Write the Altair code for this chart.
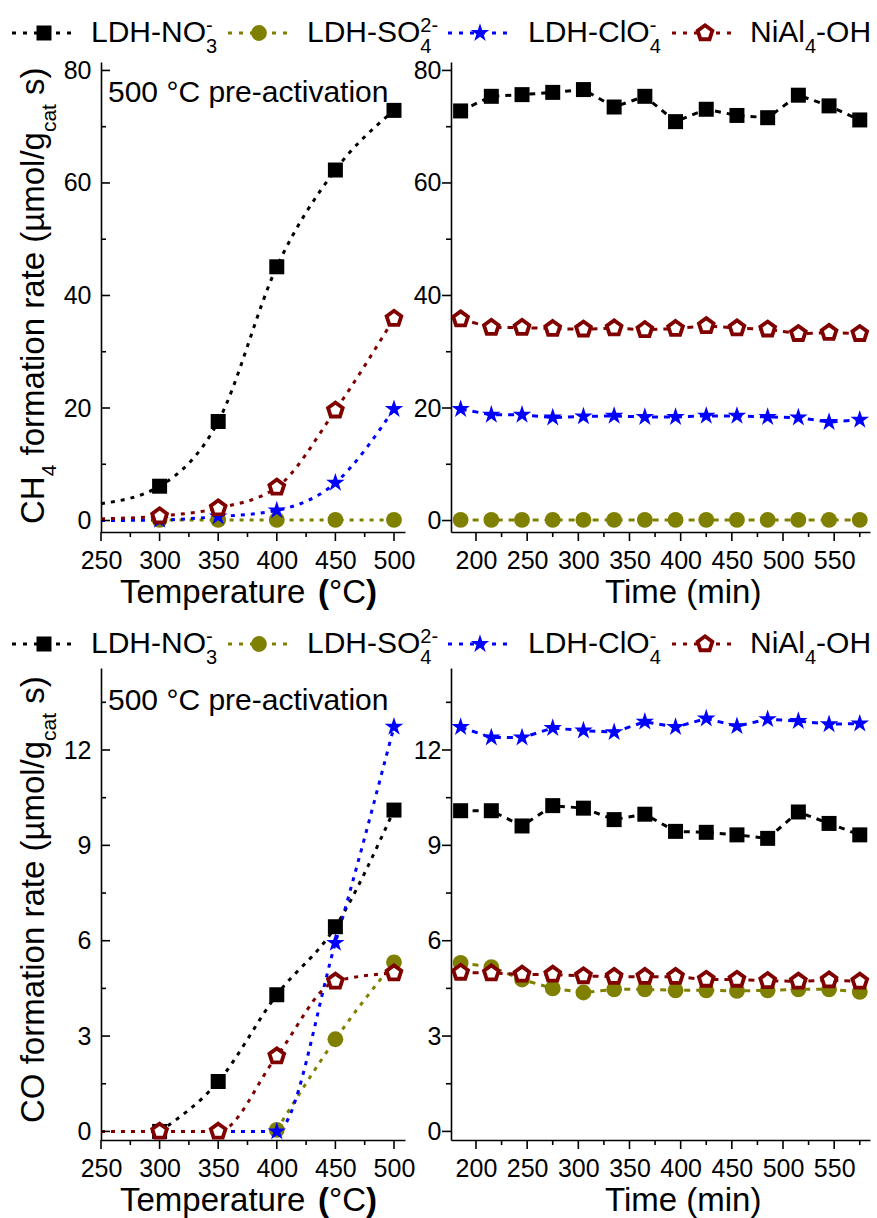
import altair as alt
import pandas as pd

FONT = "Liberation Sans"

# ---------------------------------------------------------------- data
temperature = [250, 300, 350, 400, 450, 500]
time_min = [185, 215, 245, 275, 305, 335, 365, 395, 425, 455, 485, 515, 545, 575]

# CH4 formation rate vs temperature (None = not measured)
ch4_t_no3 = [3.0, 6.1, 17.6, 45.1, 62.3, 72.9]
ch4_t_so4 = [None, 0.1, 0.1, 0.1, 0.1, 0.1]
ch4_t_clo4 = [0.0, 0.1, 0.7, 1.8, 6.7, 19.8]
ch4_t_nial = [0.3, 0.8, 2.2, 5.9, 19.6, 35.9]

# CH4 formation rate vs time on stream
ch4_time_no3 = [72.8, 75.4, 75.7, 76.1, 76.6, 73.5, 75.4, 70.9, 73.1, 72.0, 71.6, 75.6, 73.7, 71.2]
ch4_time_so4 = [0.1, 0.1, 0.1, 0.1, 0.1, 0.1, 0.1, 0.1, 0.1, 0.1, 0.1, 0.1, 0.1, 0.1]
ch4_time_clo4 = [19.8, 18.8, 18.8, 18.3, 18.5, 18.6, 18.4, 18.4, 18.6, 18.6, 18.4, 18.3, 17.5, 17.9]
ch4_time_nial = [35.8, 34.3, 34.3, 34.1, 34.0, 34.2, 33.9, 34.1, 34.6, 34.2, 34.0, 33.2, 33.4, 33.2]

# CO formation rate vs temperature
co_t_no3 = [None, 0.0, 1.57, 4.30, 6.44, 10.11]
co_t_so4 = [None, None, None, 0.05, 2.9, 5.32]
co_t_clo4 = [0.0, 0.0, 0.0, 0.0, 5.93, 12.73]
co_t_nial = [0.0, 0.0, 0.0, 2.37, 4.72, 4.98]

# CO formation rate vs time on stream
co_time_no3 = [10.09, 10.09, 9.61, 10.25, 10.17, 9.81, 9.98, 9.44, 9.41, 9.33, 9.22, 10.05, 9.69, 9.33]
co_time_so4 = [5.30, 5.17, 4.78, 4.50, 4.37, 4.47, 4.47, 4.44, 4.44, 4.42, 4.44, 4.47, 4.47, 4.39]
co_time_clo4 = [12.72, 12.39, 12.39, 12.69, 12.61, 12.56, 12.89, 12.72, 12.99, 12.75, 12.97, 12.91, 12.81, 12.83]
co_time_nial = [5.00, 4.98, 4.94, 4.94, 4.89, 4.87, 4.87, 4.87, 4.78, 4.78, 4.74, 4.72, 4.76, 4.72]

ORDER = ["NO3", "SO4", "ClO4", "NiAl"]

# ---------------------------------------------------------------- styles
PENTAGON = "M0,-1L0.951,-0.309L0.588,0.809L-0.588,0.809L-0.951,-0.309Z"
STAR = ("M0,-1L0.225,-0.309L0.951,-0.309L0.363,0.118L0.588,0.809L0,0.382"
        "L-0.588,0.809L-0.363,0.118L-0.951,-0.309L-0.225,-0.309Z")

STYLE = {
    "NO3": dict(color="#000000", shape="square", fill="#000000", stroke="#000000", sw=0, size=225),
    "SO4": dict(color="#808000", shape="circle", fill="#808000", stroke="#808000", sw=0, size=250),
    "ClO4": dict(color="#0000ff", shape=STAR, fill="#0000ff", stroke="#0000ff", sw=0, size=380),
    "NiAl": dict(color="#800000", shape=PENTAGON, fill="#ffffff", stroke="#800000", sw=3.8, size=240),
}

# Arial / Liberation Sans advance widths (em)
W = {" ": .278, "(": .333, ")": .333, "°": .4, "-": .333, "/": .278,
     "0": .556, "1": .556, "2": .556, "3": .556, "4": .556, "5": .556,
     "A": .667, "C": .722, "D": .722, "H": .722, "L": .556, "N": .722,
     "O": .778, "S": .667, "T": .611, "i": .222, "l": .222, "a": .556,
     "c": .5, "e": .556, "f": .278, "g": .556, "m": .833, "n": .556,
     "o": .556, "p": .556, "r": .333, "s": .5, "t": .278, "u": .556,
     "v": .5, "µ": .576}


def text_width(s, size):
    return sum(W.get(ch, .556) for ch in s) * size


ONE = pd.DataFrame({"k": [0]})


def text_at(text, x, y, size, weight="normal", angle=0, color="black"):
    return alt.Chart(ONE).mark_text(
        text=text, font=FONT, fontSize=size, fontWeight=weight, align="left",
        baseline="alphabetic", angle=angle, color=color,
    ).encode(x=alt.value(x), y=alt.value(y))


def runs(pieces, x0, y0, vertical=False):
    """pieces: (text, size, shift, weight, advances) laid out one after another"""
    out, pos = [], 0.0
    for text, size, shift, weight, adv in pieces:
        body = text.lstrip(" ")
        start = pos + text_width(text[:len(text) - len(body)], size)
        if vertical:
            out.append(text_at(body, x0 + shift, y0 - start, size, weight, angle=270))
        else:
            out.append(text_at(body, x0 + start, y0 + shift, size, weight))
        if adv:
            pos += text_width(text, size)
    return out


def long_frame(xs, series):
    rows = []
    for key, vals in zip(ORDER, series):
        for x, y in zip(xs, vals):
            if y is not None:
                rows.append({"x": x, "y": y, "s": key})
    return pd.DataFrame(rows)


def axis(values, pad, baseline):
    return alt.Axis(values=values, ticks=False, tickSize=0, grid=False, domain=True,
                    domainColor="black", domainWidth=1.6, labelFont=FONT, labelFontSize=25,
                    labelColor="black", labelPadding=pad, labelFlush=False,
                    labelOverlap=False, labelBaseline=baseline, title=None, format="d")


def panel(df, xdom, ydom, w, h, xmaj, xmin, ymaj, ymin, ysign, interp, dash, first_marker):
    X = alt.X("x:Q", scale=alt.Scale(domain=xdom, nice=False, zero=False),
              axis=axis(xmaj, 36, "alphabetic"))
    Y = alt.Y("y:Q", scale=alt.Scale(domain=ydom, nice=False, zero=False),
              axis=axis(ymaj, 10, "middle"))
    base = alt.Chart(df)
    layers = []
    for key in ORDER:
        st = STYLE[key]
        layers.append(
            base.transform_filter(alt.datum.s == key)
            .mark_line(color=st["color"], strokeWidth=3, strokeDash=dash,
                       interpolate=interp, strokeCap="butt")
            .encode(x=X, y=Y)
        )
    for key in ORDER:
        st = STYLE[key]
        layers.append(
            base.transform_filter((alt.datum.s == key) & (alt.datum.x >= first_marker))
            .mark_point(shape=st["shape"], size=st["size"], fill=st["fill"],
                        stroke=st["stroke"], strokeWidth=st["sw"], filled=True,
                        opacity=1, strokeJoin="miter")
            .encode(x=X, y=Y)
        )
    # axis ticks (major / minor)
    for vals, ln in ((xmaj, 9), (xmin, 5)):
        layers.append(
            alt.Chart(pd.DataFrame({"x": vals})).mark_rule(color="black", strokeWidth=1.6)
            .encode(x=X, y=alt.value(h), y2=alt.value(h + ln))
        )
    for vals, ln in ((ymaj, 9), (ymin, 5)):
        layers.append(
            alt.Chart(pd.DataFrame({"y": vals})).mark_rule(color="black", strokeWidth=1.6)
            .encode(y=Y, x=alt.value(0), x2=alt.value(ln * ysign))
        )
    return layers


def legend(y_mark, y_base):
    entries = [
        ("NO3", -89, -24, -57, -10, [("LDH-NO", 30, 0, "normal", True),
                                     ("-", 20, -10, "normal", False),
                                     ("3", 20, 11, "normal", True)]),
        ("SO4", 127, 189, 158, 206, [("LDH-SO", 30, 0, "normal", True),
                                     ("2-", 20, -10, "normal", False),
                                     ("4", 20, 11, "normal", True)]),
        ("ClO4", 347, 409, 379, 427, [("LDH-ClO", 30, 0, "normal", True),
                                      ("-", 20, -10, "normal", False),
                                      ("4", 20, 11, "normal", True)]),
        ("NiAl", 571, 637, 604, 649, [("NiAl", 30, 0, "normal", True),
                                      ("4", 20, 11, "normal", True),
                                      ("-OH", 30, 0, "normal", True)]),
    ]
    out = []
    for key, x0, x1, xm, xt, pieces in entries:
        st = STYLE[key]
        out.append(
            alt.Chart(ONE).mark_rule(color=st["color"], strokeWidth=3, strokeDash=[4, 7],
                                     strokeCap="butt")
            .encode(x=alt.value(x0), x2=alt.value(x1), y=alt.value(y_mark))
        )
        out.append(
            alt.Chart(ONE).mark_point(shape=st["shape"], size=st["size"], fill=st["fill"],
                                      stroke=st["stroke"], strokeWidth=st["sw"],
                                      filled=True, opacity=1)
            .encode(x=alt.value(xm), y=alt.value(y_mark))
        )
        out += runs(pieces, xt, y_base)
    return out


def y_title(lead, y0):
    pieces = [(lead, 33, 0, "normal", True), (" formation rate (µmol/g", 33, 0, "normal", True),
              ("cat", 21, 12, "normal", True), (" s)", 33, 0, "normal", True)]
    if lead == "CH":
        pieces.insert(1, ("4", 21, 12, "normal", True))
    return runs(pieces, -57, y0, vertical=True)


def t_title(y0):
    return runs([("Temperature ", 33, 0, "normal", True), ("(", 33, 0, "bold", True),
                 ("°C", 33, 0, "normal", True), (")", 33, 0, "bold", True)], 19, y0)


TL_W, TR_W = 304, 419
TOP_H, BOT_H = 470, 472
T_DOM = [250, 509.4]
TIME_DOM = [175.6, 585]
T_MAJ, T_MIN = [250, 300, 350, 400, 450, 500], [275, 325, 375, 425, 475]
TIME_MAJ = [200, 250, 300, 350, 400, 450, 500, 550]
TIME_MIN = [225, 275, 325, 375, 425, 475, 525, 575]
CH4_DOM, CO_DOM = [-2.04, 81.5], [-0.27, 14.58]
CH4_MAJ, CH4_MIN = [0, 20, 40, 60, 80], [10, 30, 50, 70]
CO_MAJ, CO_MIN = [0, 3, 6, 9, 12], [1.5, 4.5, 7.5, 10.5, 13.5]
DOT, DASH = [4, 6], [6, 6]

ch4_temp_df = long_frame(temperature, [ch4_t_no3, ch4_t_so4, ch4_t_clo4, ch4_t_nial])
ch4_time_df = long_frame(time_min, [ch4_time_no3, ch4_time_so4, ch4_time_clo4, ch4_time_nial])
co_temp_df = long_frame(temperature, [co_t_no3, co_t_so4, co_t_clo4, co_t_nial])
co_time_df = long_frame(time_min, [co_time_no3, co_time_so4, co_time_clo4, co_time_nial])

# top-left: CH4 vs temperature
anchor = (alt.Chart(ONE).mark_rule(strokeWidth=0.01, strokeOpacity=0)
          .encode(x=alt.value(-101), x2=alt.value(-101), y=alt.value(-62), y2=alt.value(-61)))
tl_layers = panel(ch4_temp_df, T_DOM, CH4_DOM, TL_W, TOP_H, T_MAJ, T_MIN, CH4_MAJ, CH4_MIN,
                  1, "monotone", DOT, 300)
tl_layers += [text_at("500 °C pre-activation", 7, 40, 30)]
tl_layers += y_title("CH", 462) + t_title(541) + legend(-29, -20) + [anchor]
top_left = alt.layer(*tl_layers).properties(width=TL_W, height=TOP_H)

# top-right: CH4 vs time
tr_layers = panel(ch4_time_df, TIME_DOM, CH4_DOM, TR_W, TOP_H, TIME_MAJ, TIME_MIN, CH4_MAJ,
                  CH4_MIN, -1, "linear", DASH, 0)
tr_layers += runs([("Time (min)", 33, 0, "normal", True)], 154, 541)
top_right = alt.layer(*tr_layers).properties(width=TR_W, height=TOP_H)

# bottom-left: CO vs temperature
bl_layers = panel(co_temp_df, T_DOM, CO_DOM, TL_W, BOT_H, T_MAJ, T_MIN, CO_MAJ, CO_MIN,
                  1, "monotone", DOT, 300)
bl_layers += [text_at("500 °C pre-activation", 7, 42, 30)]
bl_layers += y_title("CO", 455) + t_title(543) + legend(-24, -15)
bottom_left = alt.layer(*bl_layers).properties(width=TL_W, height=BOT_H)

# bottom-right: CO vs time
br_layers = panel(co_time_df, TIME_DOM, CO_DOM, TR_W, BOT_H, TIME_MAJ, TIME_MIN, CO_MAJ,
                  CO_MIN, -1, "linear", DASH, 0)
br_layers += runs([("Time (min)", 33, 0, "normal", True)], 154, 543)
bottom_right = alt.layer(*br_layers).properties(width=TR_W, height=BOT_H)

chart = alt.concat(
    top_left, top_right, bottom_left, bottom_right,
    columns=2, spacing={"row": 136, "column": 46}, bounds="flush", align="each",
    padding=0, background="white",
).configure_view(strokeWidth=0)

chart.save("out.html", embed_options={"renderer": "svg", "actions": False})
